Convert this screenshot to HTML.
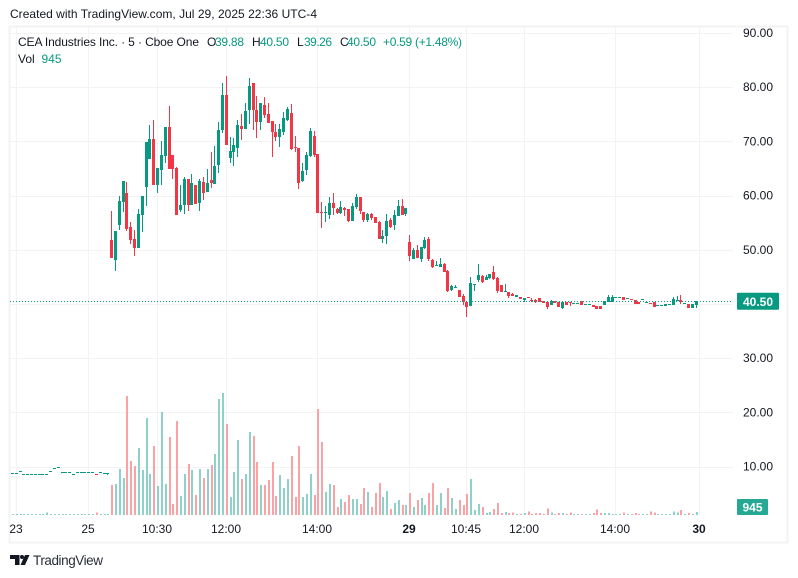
<!DOCTYPE html>
<html lang="en">
<head>
<meta charset="utf-8">
<title>CEA Industries Inc. chart</title>
<style>
html,body{margin:0;padding:0;background:#fff;width:798px;height:578px;overflow:hidden}
svg{display:block;font-family:"Liberation Sans",sans-serif}
text{fill:#131722;font-size:12px}
</style>
</head>
<body>
<svg id="chart" width="798" height="578" viewBox="0 0 798 578" xmlns="http://www.w3.org/2000/svg">
<rect width="798" height="578" fill="#ffffff"/>
<text x="10" y="18" textLength="307" lengthAdjust="spacing" fill="#131722">Created with TradingView.com, Jul 29, 2025 22:36 UTC-4</text>
<rect x="9.5" y="26.5" width="778" height="516" fill="none" stroke="#f3f3f3" stroke-width="2"/>
<g id="grid"></g>
<g id="volumes"></g>
<g id="candles"></g>
<g id="priceline"></g>
<g id="yaxis"></g>
<g id="xaxis"></g>
<g>
<text x="18" y="46" textLength="181" lengthAdjust="spacing">CEA Industries Inc. · 5 · Cboe One</text>
<text x="207" y="46">O</text>
<text x="215" y="46" textLength="29" lengthAdjust="spacing" style="fill:#089981">39.88</text>
<text x="252" y="46">H</text>
<text x="260" y="46" textLength="29" lengthAdjust="spacing" style="fill:#089981">40.50</text>
<text x="297" y="46">L</text>
<text x="304" y="46" textLength="28" lengthAdjust="spacing" style="fill:#089981">39.26</text>
<text x="340" y="46">C</text>
<text x="347" y="46" textLength="29" lengthAdjust="spacing" style="fill:#089981">40.50</text>
<text x="383" y="46" textLength="79" lengthAdjust="spacing" style="fill:#089981">+0.59 (+1.48%)</text>
<text x="18" y="63">Vol</text>
<text x="41.5" y="63" style="fill:#089981">945</text>
</g>
<g>
<path d="M10 555h9.5v10h-4.5v-6h-5z" fill="#131722"/>
<circle cx="22" cy="557" r="2" fill="#131722"/>
<path d="M25 555h4.5l-4.5 10h-4.5z" fill="#131722"/>
<text x="33" y="565" textLength="70" lengthAdjust="spacing" style="font-size:13.5px;fill:#2a2e39">TradingView</text>
</g>
</svg>
<script>
const opens = [
8.76,8.76,9.13,8.58,8.58,8.58,8.58,8.58,8.58,8.58,9.13,9.69,9.87,8.95,8.95,8.95,8.58,8.95,8.95,8.95,8.95,8.95,8.60,8.95,8.76,8.76,
51.80,48.12,54.57,58.82,60.48,54.20,51.99,50.33,56.42,61.58,
66.75,70.44,61.95,64.72,67.30,72.65,67.49,65.09,57.34,58.26,
63.06,58.26,61.95,58.63,62.51,60.66,62.87,62.14,65.64,72.10,
78.56,66.93,68.04,68.78,72.84,72.28,75.79,80.77,75.79,73.58,
76.71,75.05,73.76,71.73,70.81,71.73,73.95,75.24,68.90,68.78,
62.69,64.72,67.30,70.99,67.67,56.91,56.79,56.42,58.63,57.53,
56.79,57.71,57.53,55.32,57.90,59.74,56.98,55.50,56.61,56.05,
55.13,52.00,52.55,55.50,54.58,56.24,58.08,56.61,51.44,48.30,
49.96,48.30,50.33,52.00,48.12,47.01,46.83,47.38,46.09,42.58,
42.95,42.58,41.48,40.37,39.63,43.51,44.43,45.17,44.43,44.80,
45.91,44.80,43.51,42.22,42.22,41.85,41.29,41.29,40.74,41.29,
40.74,40.74,41.11,40.56,40.37,39.82,40.56,40.37,39.26,40.37,
40.31,40.06,40.06,40.56,39.88,39.88,39.82,39.63,39.63,39.82,
40.37,40.37,41.17,41.17,41.29,40.99,40.92,40.74,40.37,40.80,
40.25,40.19,40.37,39.57,39.63,39.63,39.76,39.82,40.62,40.74,
40.06,40.00,39.26,39.88];
const highs = [
8.76,8.76,9.13,8.58,8.58,8.58,8.58,8.58,8.58,8.58,9.13,9.69,9.87,8.95,8.95,8.95,8.58,8.95,8.95,8.95,8.95,8.95,8.60,8.95,8.76,8.76,
57.16,53.47,59.92,62.69,62.51,55.13,53.65,57.53,59.92,69.89,
73.02,73.95,65.09,70.07,72.65,76.53,67.49,65.27,61.95,63.43,
63.06,63.98,61.95,63.06,63.43,64.90,68.04,69.15,73.58,80.77,
82.06,70.81,70.62,73.95,75.05,77.08,81.69,80.77,78.37,77.08,
78.19,77.08,73.76,73.21,73.21,75.42,76.34,76.90,70.99,68.78,
66.00,68.04,72.47,71.92,67.67,58.82,58.08,59.74,60.48,57.71,
59.00,57.90,57.53,58.64,60.30,59.74,56.98,56.79,56.79,56.05,
55.32,53.66,56.61,55.87,57.35,59.19,59.37,57.71,52.73,50.33,
50.89,50.52,52.36,52.36,48.30,47.94,48.49,47.57,46.28,43.51,
43.51,42.58,41.85,40.37,44.98,43.69,47.38,45.35,45.35,45.54,
47.01,44.98,43.51,43.69,42.22,42.03,41.66,41.29,41.11,41.29,
41.11,40.92,41.11,40.56,40.37,40.74,40.56,40.37,40.37,40.37,
40.31,40.19,40.19,40.56,40.00,40.00,39.82,39.63,39.63,40.56,
41.66,41.66,41.29,41.29,41.29,41.11,40.92,40.74,40.37,40.92,
40.37,40.19,40.37,39.82,39.82,40.00,39.94,41.29,41.48,41.66,
40.19,40.00,40.00,40.50];
const lows = [
8.76,8.76,9.13,8.58,8.58,8.58,8.58,8.58,8.58,8.58,9.13,9.69,9.87,8.95,8.95,8.95,8.58,8.95,8.95,8.95,8.95,8.95,8.58,8.95,8.76,8.40,
48.48,46.09,53.65,56.97,53.47,51.07,48.85,50.33,53.28,58.08,
66.75,61.95,60.48,61.95,66.00,64.90,63.06,56.42,56.97,56.60,
57.16,58.26,58.45,57.16,59.19,60.66,61.40,62.14,64.17,71.55,
69.33,66.00,65.46,67.12,70.25,72.28,73.21,72.10,70.62,72.10,
74.31,73.39,67.12,70.07,68.96,71.18,73.76,68.41,68.04,61.21,
62.51,63.80,67.12,67.12,56.79,54.02,55.13,55.68,56.42,56.60,
56.61,56.24,55.13,55.32,57.53,56.61,55.13,55.13,55.50,54.95,
52.00,51.26,51.07,54.02,53.66,56.24,56.42,56.24,47.94,48.30,
48.49,47.75,50.15,47.94,46.64,47.01,46.83,45.91,42.22,42.40,
42.95,41.29,39.82,37.60,39.63,42.40,44.06,43.88,44.43,44.61,
44.43,42.03,42.22,42.22,41.11,41.48,41.29,40.92,40.37,41.17,
40.37,40.19,40.37,40.19,39.08,39.82,40.19,39.45,39.08,39.82,
39.63,40.06,40.06,39.82,39.88,39.88,39.45,39.08,39.08,39.82,
40.37,40.37,41.17,41.17,40.74,40.99,40.80,40.00,40.00,40.80,
40.25,40.06,39.45,39.57,39.63,39.63,39.76,39.82,40.62,40.00,
40.06,39.26,39.26,39.26];
const closes = [
8.76,8.76,9.13,8.58,8.58,8.58,8.58,8.58,8.58,8.58,9.13,9.69,9.87,8.95,8.95,8.95,8.58,8.95,8.95,8.95,8.95,8.95,8.58,8.95,8.76,8.76,
48.48,53.47,59.00,62.69,53.83,51.80,50.33,56.60,59.92,69.89,
70.44,61.95,65.09,67.49,72.65,64.90,64.90,56.42,58.26,63.06,
58.26,62.32,58.45,62.69,60.48,62.32,62.32,65.46,72.10,78.56,
69.33,68.23,69.33,73.02,72.28,75.60,80.22,75.79,73.58,77.08,
74.87,73.39,71.73,70.81,72.28,74.31,75.97,68.59,68.78,62.32,
64.54,67.49,71.92,67.49,56.79,56.79,56.97,58.63,57.71,56.79,
57.90,57.35,55.32,58.08,59.74,57.16,55.50,56.61,55.87,54.95,
52.00,52.55,55.32,54.21,56.42,58.08,56.42,57.71,48.86,49.96,
48.49,50.52,51.81,48.30,46.83,47.14,47.38,45.91,42.40,43.32,
43.14,41.29,40.37,39.45,43.88,43.69,45.35,44.06,44.98,45.54,
44.61,42.40,42.22,42.40,41.48,41.48,41.66,40.92,41.11,41.17,
40.62,40.37,40.37,40.19,39.45,40.56,40.19,39.45,40.37,39.82,
40.19,40.19,40.19,39.82,40.00,40.00,39.45,39.08,39.08,40.56,
41.29,41.29,41.29,41.29,40.74,41.11,40.80,40.00,40.00,40.92,
40.37,40.06,39.45,39.82,39.82,40.00,39.94,40.92,40.74,40.37,
40.19,39.26,40.00,40.50];
const volumesK = [
0.3,0.3,0.3,0.3,0.3,0.3,0.3,0.3,0.3,0.8,0.3,0.3,0.3,0.3,0.3,0.3,0.3,0.3,0.3,0.3,0.3,0.3,0.8,0.3,0.3,0.3,
10.0,10.3,15.3,12.3,39.7,18.0,16.3,22.3,15.0,32.3,
13.7,23.0,9.7,34.3,10.3,26.0,3.7,31.3,6.3,13.7,
17.0,15.0,6.7,15.3,12.3,15.3,16.7,20.3,38.7,40.7,
30.3,6.0,14.3,25.0,12.0,13.7,27.7,26.3,17.7,10.0,
10.0,11.7,17.7,6.3,13.3,9.0,12.0,19.7,6.0,23.0,
6.0,7.0,13.7,6.7,35.3,24.3,7.7,10.3,10.0,2.7,
5.3,4.3,6.7,5.3,5.3,3.7,9.0,7.7,2.7,7.3,
10.7,6.0,8.0,2.0,4.0,5.0,3.3,3.3,7.3,2.7,
5.0,5.7,3.3,7.3,10.7,3.3,7.3,2.3,9.0,5.7,
2.0,5.0,3.3,7.0,12.0,1.7,3.7,2.7,0.7,1.0,
2.0,4.0,0.7,1.0,0.7,0.9,0.3,0.3,0.6,1.2,
0.2,0.6,0.6,0.2,2.2,0.9,0.2,0.6,0.6,0.2,
0.9,0.2,0.2,0.2,0.2,0.2,0.6,1.9,0.6,0.6,
0.6,0.2,0.2,0.2,0.9,0.2,0.2,0.6,0.2,0.2,
0.2,1.2,0.9,0.2,0.2,0.2,0.2,1.2,0.9,1.6,
0.2,0.6,0.2,0.945];
const priceTicks = [90, 80, 70, 60, 50, 30, 20, 10];
const gridPrices = [90, 80, 70, 60, 50, 40, 30, 20, 10];
const timeTickLabels = ["23", "25", "10:30", "12:00", "14:00", "29", "10:45", "12:00", "14:00", "30"];
const timeTickBars = [1, 20, 38, 56, 80, 104, 119, 134, 158, 180];
const timeTickBold = [false, false, false, false, false, true, false, false, false, true];
const lastPrice = 40.50;
const lastVolumeLabel = "945";

const NS = "http://www.w3.org/2000/svg";
const GREEN = "#089981", RED = "#f23645", VGREEN = "#8ed1c8", VRED = "#f9a3a6", GRID = "#f3f3f3";
function xOf(i) { return 111.2 + (i - 26) * 3.82; }
function yOf(p) { return 33 + (90 - p) * 5.42; }
function volH(v) { return v * 3; }
const VOL_BASE = 515;
function mk(tag, attrs, parent) {
  const el = document.createElementNS(NS, tag);
  for (const k in attrs) el.setAttribute(k, attrs[k]);
  parent.appendChild(el);
  return el;
}
const gridG = document.getElementById("grid");
gridPrices.forEach(function (p) {
  const y = Math.round(yOf(p)) + 0.5;
  const l = mk("line", { x1: 10, x2: 733, y1: y, y2: y, stroke: GRID }, gridG);
  
  
});
timeTickBars.forEach(function (b) {
  const x = Math.round(xOf(b)) + 0.5;
  const l = mk("line", { x1: x, x2: x, y1: 27, y2: 516, stroke: GRID }, gridG);
  
  
});
const volG = document.getElementById("volumes");
volumesK.forEach(function (v, i) {
  const h = Math.max(1, volH(v));
  const r = mk("rect", {
    x: Math.round(xOf(i)), y: VOL_BASE - h, width: 2, height: h,
    fill: closes[i] < opens[i] ? VRED : VGREEN, "shape-rendering": "crispEdges"
  }, volG);
  
  
});
const candleG = document.getElementById("candles");
closes.forEach(function (c, i) {
  const o = opens[i];
  const col = c < o ? RED : GREEN;
  const x = Math.round(xOf(i));
  const top = Math.round(yOf(Math.max(o, c)));
  const bot = Math.round(yOf(Math.min(o, c)));
  const wt = Math.round(yOf(highs[i]));
  const wb = Math.round(yOf(lows[i]));
  const g = mk("g", { "shape-rendering": "crispEdges", fill: col }, candleG);
  
  
  const w = mk("rect", { x: x, y: wt, width: 1, height: Math.max(1, wb - wt) }, g);
  
  
  const b = mk("rect", { x: x - 1, y: top, width: 3, height: Math.max(1, bot - top) }, g);
  
  
});
const plG = document.getElementById("priceline");
const ly = Math.round(yOf(lastPrice)) + 0.5;
const pl = mk("line", { x1: 10, x2: 733, y1: ly, y2: ly, stroke: GREEN, "stroke-dasharray": "1 2" }, plG);


const yG = document.getElementById("yaxis");
priceTicks.forEach(function (p) {
  const t = mk("text", { x: 773, y: yOf(p) + 4, "text-anchor": "end" }, yG);
  
  
  t.textContent = p.toFixed(2);
});
const pb = mk("rect", { x: 737, y: yOf(lastPrice) - 8.5, width: 42, height: 17, rx: 1, fill: GREEN }, yG);


const pbt = mk("text", { x: 758, y: yOf(lastPrice) + 4.5, "text-anchor": "middle", style: "fill:#fff;font-weight:bold" }, yG);


pbt.textContent = lastPrice.toFixed(2);
const vb = mk("rect", { x: 737, y: 499, width: 31, height: 16, rx: 1, fill: "#26a994" }, yG);


const vbt = mk("text", { x: 752.5, y: 511.5, "text-anchor": "middle", style: "fill:#fff;font-weight:bold" }, yG);


vbt.textContent = lastVolumeLabel;
const xG = document.getElementById("xaxis");
timeTickLabels.forEach(function (lab, k) {
  const t = mk("text", {
    x: Math.round(xOf(timeTickBars[k])), y: 533, "text-anchor": "middle",
    style: timeTickBold[k] ? "font-weight:bold" : ""
  }, xG);
  
  
  t.textContent = lab;
});
</script>
</body>
</html>
